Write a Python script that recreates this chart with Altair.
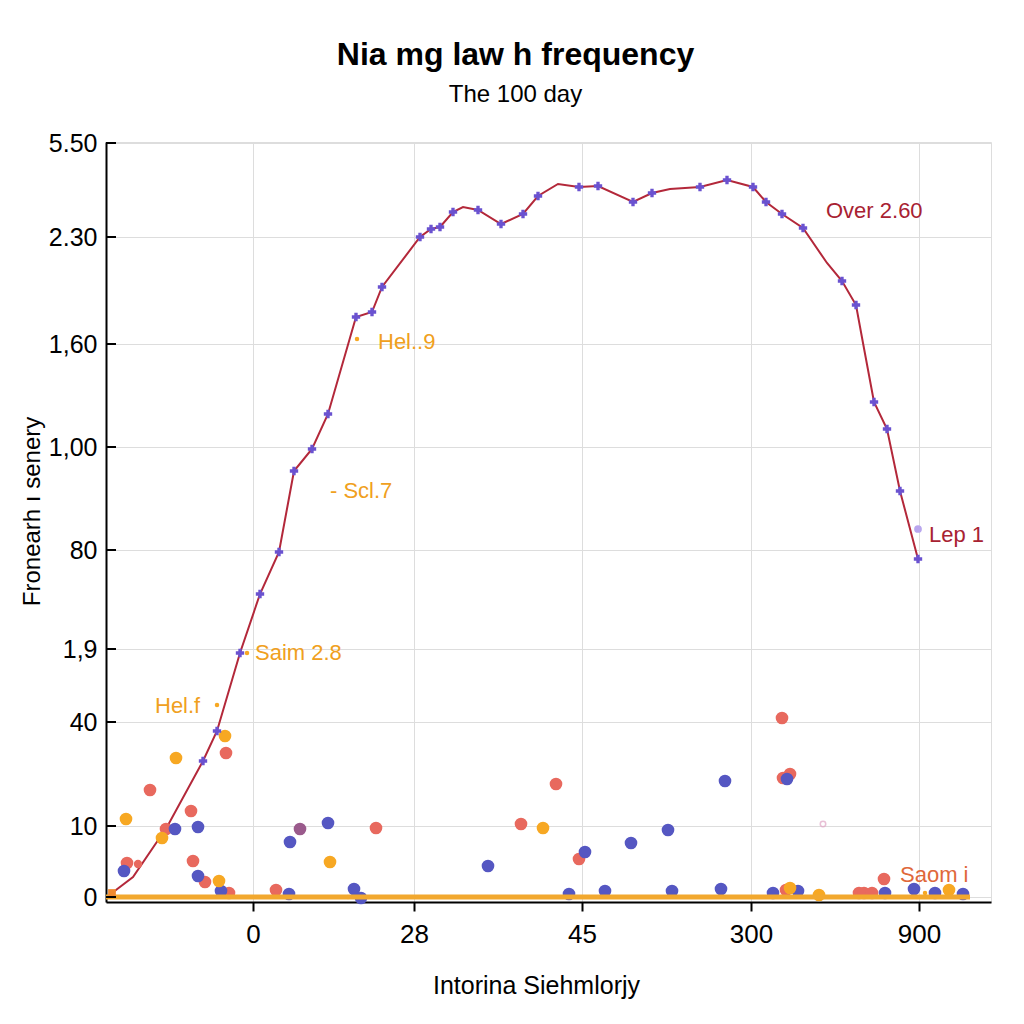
import altair as alt
import pandas as pd

FONT = "Liberation Sans"

# Axis ticks (custom, non-linear labels placed on a linear index scale)
X_TICKS = [147, 308, 476, 645, 813]
X_LABELS = ["0", "28", "45", "300", "900"]
Y_TICKS = [0, 71, 175, 248, 347, 450, 553, 660, 754]
Y_LABELS = ["0", "10", "40", "1,9", "80", "1,00", "1,60", "2.30", "5.50"]

# Main red curve
LINE_X = [6, 27, 61, 97, 111, 134, 154, 173, 188, 206, 222, 250, 266, 276, 314, 325, 334,
          347, 357, 372, 395, 417, 432, 452, 473, 492, 527, 546, 564, 594, 621, 647, 660,
          676, 697, 721, 736, 750, 757, 768, 781, 794, 812]
LINE_Y = [4, 20, 70, 136, 166, 244, 303, 345, 426, 448, 483, 580, 585, 610, 660, 668, 670,
          685, 690, 687, 673, 683, 701, 713, 710, 711, 695, 704, 708, 710, 717, 710, 695,
          683, 669, 634, 616, 592, 554, 495, 468, 406, 338]
LINE_MARK = [0, 0, 0, 1, 1, 1, 1, 1, 1, 1, 1, 1, 1, 1, 1, 1, 1,
             1, 0, 1, 1, 1, 1, 0, 1, 1, 1, 1, 0, 1, 1, 1, 1,
             1, 1, 0, 1, 1, 0, 1, 1, 1, 1]

# Scatter series
CORAL_X = [21, 44, 60, 85, 87, 99, 120, 123, 170, 270, 415, 450, 473, 676, 684, 677, 680, 753, 758, 766, 778]
CORAL_Y = [34, 107, 68, 86, 36, 15, 144, 4, 7, 69, 73, 113, 38, 179, 123, 119, 7, 4, 4, 4, 18]
BLUE_X = [18, 69, 92, 92, 115, 183, 184, 222, 248, 255, 382, 463, 479, 499, 525, 562, 566, 615,
          619, 681, 667, 692, 779, 808, 829, 857]
BLUE_Y = [26, 68, 70, 21, 6, 3, 55, 74, 8, -1, 31, 3, 45, 6, 54, 67, 6, 8,
          116, 118, 4, 6, 4, 8, 4, 3]
GOLD_X = [20, 56, 70, 113, 119, 224, 437, 684, 713, 843]
GOLD_Y = [78, 59, 139, 16, 161, 35, 69, 9, 2, 7]
MAUVE_X = [194]
MAUVE_Y = [68]
SMALL_CORAL_X = [32]
SMALL_CORAL_Y = [33]
SMALL_GOLD_X = [242, 819, 251, 111, 141]
SMALL_GOLD_Y = [0, 4, 558, 192, 244]

# Orange baseline series
BASE_X = [0, 864]
BASE_Y = [0, 0]

# Annotations
ANN_TEXT = ["Over 2.60", "Lep 1", "Hel..9", "- Scl.7", "Saim 2.8", "Hel.f", "Saom i"]
ANN_X = [720, 823, 272, 224, 149, 49, 794]
ANN_Y = [686, 362, 555, 406, 244, 191, 22]
ANN_COLOR = ["#a82232", "#a82232", "#f0a020", "#f0a020", "#f0a020", "#f0a020", "#e0683a"]

x_scale = alt.Scale(domain=[0, 885], nice=False, zero=False)
y_scale = alt.Scale(domain=[-5, 755], nice=False, zero=False)

x_axis = alt.Axis(
    values=X_TICKS,
    labelExpr=f"{X_LABELS}[indexof({X_TICKS}, datum.value)]",
    labelFont=FONT, labelFontSize=26, labelColor="black", labelPadding=10,
    tickSize=9, tickWidth=2, tickColor="black",
    domainColor="black", domainWidth=2,
    grid=True, gridColor="#dddddd", gridWidth=1,
    titleFont=FONT, titleFontSize=25, titleFontWeight="normal", titleColor="black",
    titleX=430, titleY=91, titleBaseline="alphabetic",
)
y_axis = alt.Axis(
    values=Y_TICKS,
    labelExpr=f"{Y_LABELS}[indexof({Y_TICKS}, datum.value)]",
    labelFont=FONT, labelFontSize=25, labelColor="black", labelPadding=9,
    ticks=False,
    domainColor="black", domainWidth=2,
    grid=True, gridColor="#dddddd", gridWidth=1,
    titleFont=FONT, titleFontSize=24, titleFontWeight="normal", titleColor="black",
    titleX=-74, titleY=369, titleBaseline="middle", titleAngle=270,
)

X = alt.X("x:Q", scale=x_scale, axis=x_axis, title="Intorina Siehmlorjy")
Y = alt.Y("y:Q", scale=y_scale, axis=y_axis, title="Fronearh ı senery")

line_df = pd.DataFrame({"x": LINE_X, "y": LINE_Y, "m": LINE_MARK})
mark_df = line_df[line_df["m"] == 1]

def pts(xs, ys, name):
    return pd.DataFrame({"x": xs, "y": ys, "g": [name] * len(xs)})

scatter_df = pd.concat([
    pts(CORAL_X, CORAL_Y, "coral"),
    pts(BLUE_X, BLUE_Y, "blue"),
    pts(GOLD_X, GOLD_Y, "gold"),
    pts(MAUVE_X, MAUVE_Y, "mauve"),
])
color_scale = alt.Scale(domain=["coral", "blue", "gold", "mauve"],
                        range=["#e8695e", "#5557c2", "#f7a823", "#9a5a8c"])

red_line = alt.Chart(line_df).mark_line(color="#b3283a", strokeWidth=2).encode(x=X, y=Y)

scatter = alt.Chart(scatter_df).mark_circle(size=160, opacity=1).encode(
    x=X, y=Y, color=alt.Color("g:N", scale=color_scale, legend=None)
)
small_coral = alt.Chart(pts(SMALL_CORAL_X, SMALL_CORAL_Y, "c")).mark_circle(
    size=70, color="#e8695e", opacity=1).encode(x=X, y=Y)
small_gold = alt.Chart(pts(SMALL_GOLD_X, SMALL_GOLD_Y, "g")).mark_circle(
    size=20, color="#f7a823", opacity=1).encode(x=X, y=Y)

baseline = alt.Chart(pd.DataFrame({"x": BASE_X, "y": BASE_Y})).mark_line(
    color="#f2a82e", strokeWidth=5).encode(x=X, y=Y)

start_sq = alt.Chart(pd.DataFrame({"x": LINE_X[:1], "y": LINE_Y[:1]})).mark_square(
    size=60, color="#f08a30", opacity=1).encode(x=X, y=Y)

markers = alt.Chart(mark_df).mark_point(
    shape="cross", size=70, filled=True, color="#6a52d0", opacity=1).encode(x=X, y=Y)

lone = alt.Chart(pd.DataFrame({"x": [812], "y": [368]})).mark_circle(
    size=60, color="#b9a6ee", opacity=1).encode(x=X, y=Y)
hollow = alt.Chart(pd.DataFrame({"x": [717], "y": [73]})).mark_point(
    size=30, color="#e0a6c6", strokeWidth=1.5).encode(x=X, y=Y)

ytick_df = pd.DataFrame({"y": Y_TICKS})
yticks = alt.Chart(ytick_df).mark_rule(color="black", strokeWidth=2).encode(
    y=Y, x=alt.value(0), x2=alt.value(10))

ann_df = pd.DataFrame({"x": ANN_X, "y": ANN_Y, "t": ANN_TEXT, "c": ANN_COLOR})
ann = alt.Chart(ann_df).mark_text(
    align="left", baseline="middle", font=FONT, fontSize=22).encode(
    x=X, y=Y, text="t:N", color=alt.Color("c:N", scale=None))

chart = alt.layer(
    red_line, scatter, small_coral, small_gold, baseline, start_sq, markers, lone, hollow,
    yticks, ann
).properties(
    width=885, height=760,
    autosize=alt.AutoSizeParams(type="none"),
    padding={"left": 98, "top": 134, "right": 25, "bottom": 114},
    title=alt.TitleParams(
        text="Nia mg law h frequency", subtitle="The 100 day",
        font=FONT, fontSize=32, fontWeight="bold", color="black",
        subtitleFont=FONT, subtitleFontSize=24, subtitleColor="black",
        subtitlePadding=11, anchor="middle", dx=-33, offset=23,
    ),
).configure_view(stroke="#dddddd", strokeWidth=1).configure(background="white")

chart.save("out.html", embed_options={"renderer": "svg", "actions": False})
